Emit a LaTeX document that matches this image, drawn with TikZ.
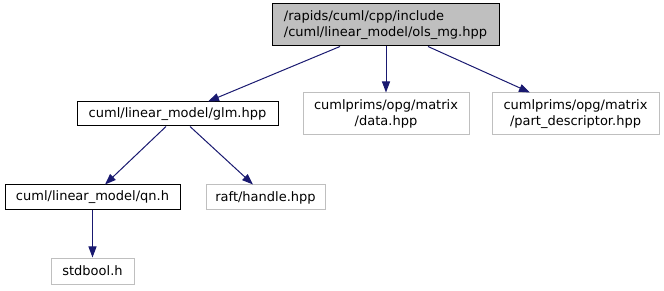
\documentclass[tikz,border=0pt]{standalone}
\usepackage{fontspec}
\setmainfont{DejaVu Sans}
\usetikzlibrary{arrows.meta}

\tikzset{
  filebox/.style={draw=black, line width=1pt, inner sep=0pt, align=center,
    font=\fontsize{13}{15.5}\selectfont},
  extbox/.style={filebox, draw=extgray},
  incl/.style={draw=linkblue, line width=1pt,
    -{Triangle[length=11pt, width=8pt]}, shorten >=0pt}
}

\begin{document}
\begin{tikzpicture}[x=1pt, y=-1pt]
\definecolor{rootfill}{RGB}{191,191,191}
\definecolor{extgray}{RGB}{191,191,191}
\definecolor{linkblue}{RGB}{25,25,112}
\useasboundingbox (0,0) rectangle (664,291);
% Header being documented
\node[filebox, fill=rootfill, align=left, minimum width=227, minimum height=42]
  (olsmg) at (385.5,25) {/rapids/cuml/cpp/include\\/cuml/linear\_model/ols\_mg.hpp};
% Second level
\node[filebox, minimum width=201, minimum height=24] (glm) at (177.5,114)
  {cuml/linear\_model/glm.hpp};
\node[extbox, minimum width=166, minimum height=42] (data) at (386,114)
  {cumlprims/opg/matrix\\/data.hpp};
\node[extbox, minimum width=167, minimum height=42] (partdesc) at (575.5,114)
  {cumlprims/opg/matrix\\/part\_descriptor.hpp};
% Third level
\node[filebox, minimum width=175, minimum height=25] (qn) at (92.5,197.5)
  {cuml/linear\_model/qn.h};
\node[extbox, minimum width=119, minimum height=25] (handle) at (265.5,197.5)
  {raft/handle.hpp};
% Fourth level
\node[extbox, minimum width=83, minimum height=26] (stdbool) at (92.5,271)
  {stdbool.h};
% Include edges
\draw[incl] ([xshift=-45.5]olsmg.south) -- ([xshift=30.5]glm.north);
\draw[incl] (olsmg.south -| data.north) -- (data.north);
\draw[incl] ([xshift=42.5]olsmg.south) -- ([xshift=-45.5]partdesc.north);
\draw[incl] ([xshift=-11.5]glm.south) -- ([xshift=12.5]qn.north);
\draw[incl] ([xshift=12.5]glm.south) -- ([xshift=-12.5]handle.north);
\draw[incl] (qn.south) -- (stdbool.north);
\end{tikzpicture}
\end{document}
